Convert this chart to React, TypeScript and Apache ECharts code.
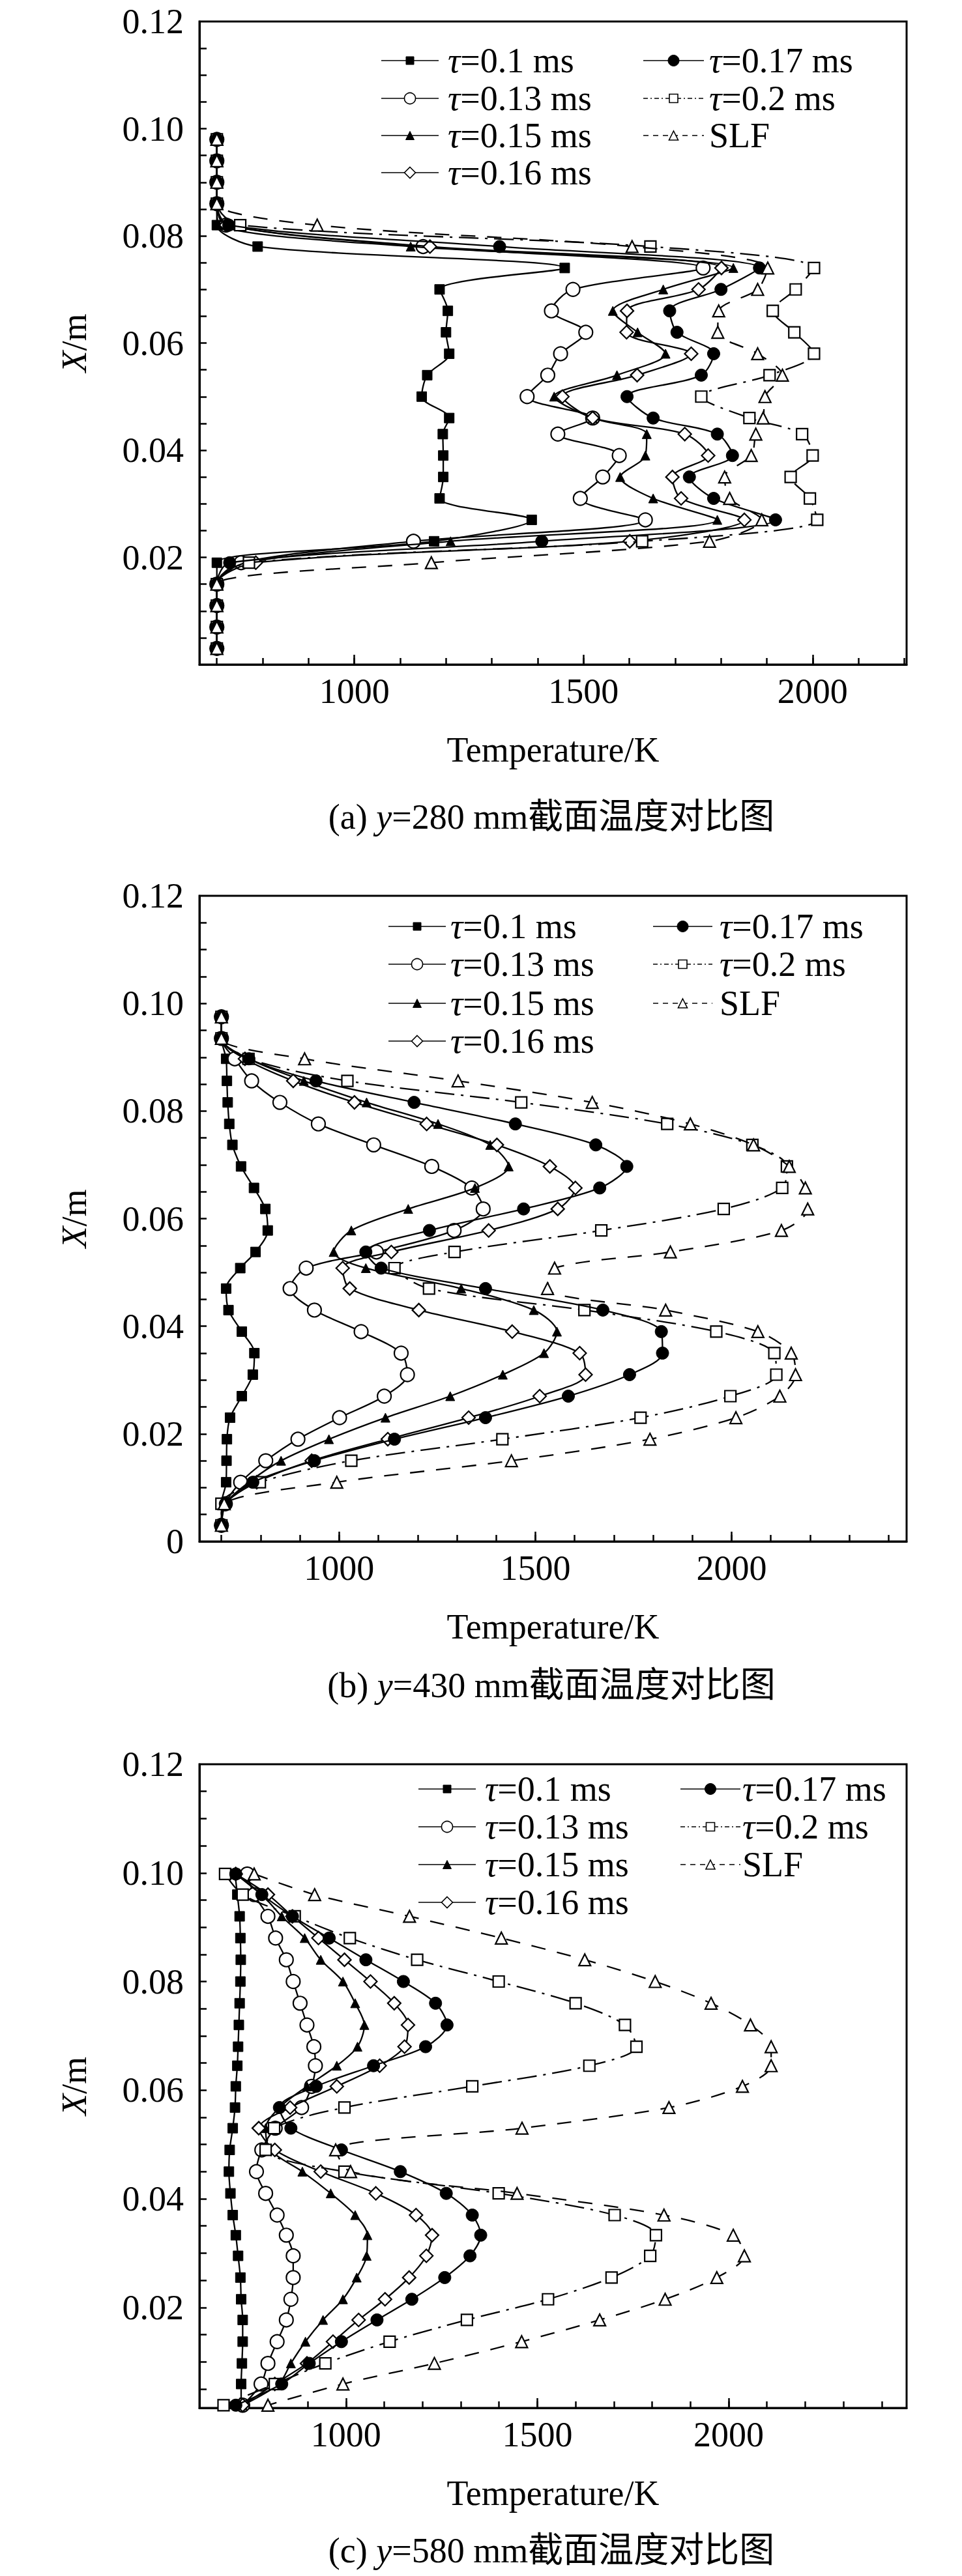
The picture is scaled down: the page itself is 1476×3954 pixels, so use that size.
import { useEffect, useRef } from "react";
import * as echarts from "echarts";

const FONT = "'Liberation Serif', 'Times New Roman', 'Noto Sans CJK SC', serif";

// legend / series names, same order in all three panels
const seriesNames = ["τ=0.1 ms", "τ=0.13 ms", "τ=0.15 ms", "τ=0.16 ms", "τ=0.17 ms", "τ=0.2 ms", "SLF"];

const xLabelValues = [1000, 1500, 2000];

// (a) y=280 mm — X/m rows and temperature (K) per series
const rowsA = [0.098, 0.094, 0.09, 0.086, 0.082, 0.078, 0.074, 0.07, 0.066, 0.062, 0.058, 0.054, 0.05, 0.046, 0.043, 0.039, 0.035, 0.031, 0.027, 0.023, 0.019, 0.015, 0.011, 0.007, 0.003];
const tau01A = [700, 700, 700, 700, 700, 789, 1459, 1186, 1204, 1200, 1207, 1159, 1147, 1207, 1193, 1194, 1194, 1186, 1387, 1174, 700, 700, 700, 700, 700];
const tau013A = [700, 700, 700, 700, 720, 1150, 1761, 1477, 1430, 1505, 1450, 1422, 1377, 1520, 1444, 1578, 1542, 1493, 1635, 1129, 753, 700, 700, 700, 700];
const tau015A = [700, 700, 700, 700, 705, 1123, 1827, 1674, 1564, 1618, 1679, 1573, 1436, 1520, 1638, 1635, 1580, 1652, 1792, 1210, 765, 700, 700, 700, 700];
const tau016A = [700, 700, 700, 700, 720, 1165, 1801, 1751, 1595, 1594, 1735, 1617, 1454, 1520, 1721, 1772, 1694, 1713, 1851, 1601, 785, 700, 700, 700, 700];
const tau017A = [700, 700, 700, 700, 726, 1317, 1884, 1800, 1688, 1704, 1784, 1757, 1595, 1652, 1792, 1825, 1731, 1784, 1919, 1409, 728, 700, 700, 700, 700];
const tau02A = [700, 700, 700, 700, 751, 1646, 2003, 1963, 1913, 1960, 2003, 1906, 1757, 1862, 1977, 2000, 1952, 1994, 2010, 1628, 770, 700, 700, 700, 700];
const slfA = [700, 700, 700, 700, 919, 1606, 1902, 1880, 1795, 1793, 1880, 1934, 1896, 1892, 1876, 1866, 1808, 1819, 1889, 1775, 1168, 700, 700, 700, 700];
const yLabelsA = [0.02, 0.04, 0.06, 0.08, 0.1, 0.12];

// (b) y=430 mm
const rowsB = [0.0975, 0.0935, 0.0897, 0.0856, 0.0816, 0.0776, 0.0737, 0.0697, 0.0657, 0.0618, 0.0578, 0.0538, 0.0508, 0.047, 0.043, 0.039, 0.035, 0.031, 0.027, 0.023, 0.019, 0.015, 0.011, 0.007, 0.003];
const tau01B = [700, 700, 712, 714, 716, 720, 728, 750, 783, 812, 818, 787, 748, 712, 718, 752, 784, 780, 752, 722, 714, 713, 712, 700, 700];
const tau013B = [700, 700, 734, 777, 849, 947, 1088, 1236, 1338, 1367, 1293, 1095, 916, 875, 937, 1056, 1158, 1174, 1115, 1001, 895, 813, 749, 710, 700];
const tau015B = [700, 700, 770, 910, 1070, 1252, 1385, 1432, 1346, 1176, 1031, 986, 1068, 1311, 1496, 1555, 1522, 1417, 1283, 1118, 974, 852, 770, 710, 700];
const tau016B = [700, 700, 760, 883, 1039, 1223, 1402, 1537, 1602, 1557, 1381, 1133, 1009, 1027, 1203, 1441, 1613, 1628, 1511, 1330, 1124, 930, 790, 710, 700];
const tau017B = [700, 700, 770, 941, 1191, 1449, 1654, 1733, 1664, 1470, 1230, 1068, 1107, 1373, 1672, 1821, 1824, 1740, 1584, 1373, 1141, 937, 780, 710, 700];
const tau02B = [700, 700, 769, 1021, 1464, 1836, 2053, 2141, 2129, 1980, 1668, 1294, 1141, 1229, 1625, 1961, 2109, 2114, 1997, 1768, 1416, 1031, 798, 700, 700];
const slfB = [700, 700, 912, 1303, 1645, 1895, 2056, 2147, 2188, 2194, 2127, 1844, 1549, 1531, 1832, 2067, 2152, 2163, 2123, 2011, 1792, 1439, 994, 707, 700];
const yLabelsB = [0, 0.02, 0.04, 0.06, 0.08, 0.1, 0.12];

// (c) y=580 mm
const rowsC = [0.0998, 0.096, 0.092, 0.088, 0.084, 0.08, 0.076, 0.072, 0.068, 0.0645, 0.0607, 0.0568, 0.053, 0.049, 0.045, 0.041, 0.037, 0.0333, 0.0295, 0.0255, 0.0215, 0.0177, 0.0137, 0.0097, 0.0059, 0.002];
const tau01C = [710, 716, 722, 724, 725, 724, 722, 720, 718, 716, 712, 710, 704, 696, 694, 698, 704, 712, 718, 724, 726, 730, 730, 728, 726, 726];
const tau013C = [742, 760, 796, 816, 844, 862, 880, 898, 916, 920, 910, 884, 815, 780, 766, 790, 820, 844, 862, 862, 856, 844, 820, 796, 778, 730];
const tau015C = [712, 780, 832, 892, 934, 992, 1024, 1048, 1030, 976, 898, 826, 790, 802, 886, 960, 1024, 1056, 1054, 1028, 992, 940, 894, 856, 824, 730];
const tau016C = [712, 796, 860, 928, 996, 1064, 1126, 1162, 1153, 1088, 976, 854, 772, 814, 934, 1078, 1183, 1225, 1210, 1165, 1102, 1033, 966, 898, 814, 730];
const tau017C = [712, 780, 860, 956, 1052, 1150, 1234, 1264, 1208, 1072, 922, 826, 856, 988, 1142, 1262, 1330, 1352, 1324, 1258, 1172, 1081, 988, 904, 832, 712];
const tau02C = [684, 730, 866, 1010, 1186, 1399, 1600, 1729, 1759, 1636, 1330, 996, 812, 790, 996, 1399, 1702, 1810, 1795, 1694, 1528, 1316, 1114, 946, 814, 680];
const slfC = [760, 918, 1166, 1406, 1624, 1808, 1954, 2057, 2111, 2111, 2036, 1844, 1460, 973, 1012, 1447, 1831, 2012, 2041, 1969, 1834, 1663, 1459, 1231, 992, 796];
const yLabelsC = [0.02, 0.04, 0.06, 0.08, 0.1, 0.12];

type Marker = {
  symbol: string;
  size: number;
  fill: string;
  dash: "solid" | number[];
  legendSize: number;
  legendDash?: number[];
  z: number;
};

const markers: Marker[] = [
  { symbol: "rect", size: 15, fill: "#000", dash: "solid", legendSize: 12, z: 2 },
  { symbol: "circle", size: 21, fill: "#fff", dash: "solid", legendSize: 17, z: 3 },
  { symbol: "triangle", size: 14, fill: "#000", dash: "solid", legendSize: 13, z: 4 },
  { symbol: "diamond", size: 20, fill: "#fff", dash: "solid", legendSize: 17, z: 5 },
  { symbol: "circle", size: 19, fill: "#000", dash: "solid", legendSize: 17, z: 7 },
  { symbol: "rect", size: 17, fill: "#fff", dash: [30, 10, 4, 10], legendSize: 13, legendDash: [7, 4, 2, 4], z: 6 },
  { symbol: "triangle", size: 18, fill: "#fff", dash: [22, 18], legendSize: 14, legendDash: [8, 7], z: 8 },
];

const panels = [
  {
    rows: rowsA,
    values: [tau01A, tau013A, tau015A, tau016A, tau017A, tau02A, slfA],
    xMin: 662, xMax: 2205, yMin: 0, yLabels: yLabelsA,
    top: 33, height: 987,
    legendRows: [93, 151, 208, 265], legLeft: [585, 673, 687], legRight: [987, 1080, 1088],
    caption: "(a) {i|y}=280 mm截面温度对比图", captionY: 1254,
  },
  {
    rows: rowsB,
    values: [tau01B, tau013B, tau015B, tau016B, tau017B, tau02B, slfB],
    xMin: 644, xMax: 2446, yMin: 0, yLabels: yLabelsB,
    top: 1375, height: 991,
    legendRows: [1422, 1480, 1540, 1598], legLeft: [596, 684, 691], legRight: [1002, 1093, 1104],
    caption: "(b) {i|y}=430 mm截面温度对比图", captionY: 2587,
  },
  {
    rows: rowsC,
    values: [tau01C, tau013C, tau015C, tau016C, tau017C, tau02C, slfC],
    xMin: 617, xMax: 2465, yMin: 0.0015, yLabels: yLabelsC,
    top: 2708, height: 988,
    legendRows: [2746, 2804, 2862, 2920], legLeft: [642, 730, 744], legRight: [1044, 1136, 1139],
    caption: "(c) {i|y}=580 mm截面温度对比图", captionY: 3915,
  },
];

const GRID_LEFT = 306;
const GRID_WIDTH = 1085;
const LEGEND_FONT = 54;
const italicRich = (size: number) => ({ i: { fontStyle: "italic", fontSize: size, fontFamily: FONT, fill: "#000" } });

function symbolEl(kind: string, cx: number, cy: number, s: number, fill: string) {
  const style = { fill, stroke: "#000", lineWidth: fill === "#fff" ? 1.6 : 1 };
  const h = s / 2;
  if (kind === "rect") return { type: "rect", shape: { x: cx - h, y: cy - h, width: s, height: s }, style, z: 101 };
  if (kind === "circle") return { type: "circle", shape: { cx, cy, r: h }, style, z: 101 };
  if (kind === "triangle")
    return { type: "polygon", shape: { points: [[cx, cy - h], [cx + h, cy + h], [cx - h, cy + h]] }, style, z: 101 };
  return { type: "polygon", shape: { points: [[cx, cy - h], [cx + h, cy], [cx, cy + h], [cx - h, cy]] }, style, z: 101 };
}

function legendItem(m: Marker, x1: number, x2: number, tx: number, y: number, label: string) {
  return [
    { type: "line", shape: { x1, y1: y, x2, y2: y }, style: { stroke: "#000", lineWidth: 1.6, lineDash: m.legendDash }, z: 100 },
    symbolEl(m.symbol, (x1 + x2) / 2, y, m.legendSize, m.fill),
    {
      type: "text", x: tx, y, z: 100,
      style: {
        text: label.replace("τ", "{i|τ}"), fontSize: LEGEND_FONT, fontFamily: FONT, fill: "#000",
        align: "left", verticalAlign: "middle", rich: italicRich(LEGEND_FONT),
      },
    },
  ];
}

function buildOption(): echarts.EChartsOption {
  const grid: any[] = [];
  const xAxis: any[] = [];
  const yAxis: any[] = [];
  const series: any[] = [];
  const graphic: any[] = [];
  const axisColor = { color: "#000", width: 3 };
  const tickLine = { color: "#000", width: 2.5 };
  const labelStyle = { fontSize: 54, fontFamily: FONT, color: "#000" };

  panels.forEach((p, i) => {
    grid.push({ left: GRID_LEFT, width: GRID_WIDTH, top: p.top, height: p.height, show: true, borderColor: "#000", borderWidth: 3 });

    const xTicks: number[] = [];
    for (let t = 700; t <= p.xMax; t += 100) xTicks.push(t);
    const yTicks: number[] = [];
    for (let k = 1; k < 24; k++) {
      const v = Math.round(k * 5) / 1000;
      if (v > p.yMin) yTicks.push(v);
    }

    xAxis.push({
      gridIndex: i, type: "value", min: p.xMin, max: p.xMax, position: "bottom",
      axisLine: { show: true, onZero: false, lineStyle: axisColor },
      axisTick: { show: true, inside: true, length: 10, customValues: xTicks, lineStyle: tickLine },
      axisLabel: { show: true, customValues: xLabelValues, margin: 14, ...labelStyle, formatter: (v: number) => String(v) },
      splitLine: { show: false },
    });
    xAxis.push({
      gridIndex: i, type: "value", min: p.xMin, max: p.xMax, position: "bottom",
      axisLine: { show: false },
      axisTick: { show: true, inside: true, length: 15, customValues: xLabelValues, lineStyle: tickLine },
      axisLabel: { show: false },
      splitLine: { show: false },
    });
    yAxis.push({
      gridIndex: i, type: "value", min: p.yMin, max: 0.12,
      axisLine: { show: true, onZero: false, lineStyle: axisColor },
      axisTick: { show: true, inside: true, length: 11, customValues: yTicks, lineStyle: tickLine },
      axisLabel: {
        show: true, customValues: p.yLabels, margin: 24, ...labelStyle,
        formatter: (v: number) => (v === 0 ? "0" : v.toFixed(2)),
      },
      splitLine: { show: false },
    });

    p.values.forEach((vals, j) => {
      const m = markers[j];
      const data = p.rows.map((x, r) => [vals[r], x]).filter((d) => d[0] != null);
      series.push({
        type: "line", name: seriesNames[j], xAxisIndex: i * 2, yAxisIndex: i,
        data, smooth: 0.3, symbol: m.symbol, symbolSize: m.size, showAllSymbol: true,
        lineStyle: { color: "#000", width: 2.3, type: m.dash },
        itemStyle: { color: m.fill, borderColor: "#000", borderWidth: m.fill === "#fff" ? 2.2 : 1 },
        emphasis: { disabled: true },
        z: m.z,
      });
    });

    const midX = GRID_LEFT + GRID_WIDTH / 2;
    const bottom = p.top + p.height;
    graphic.push({
      type: "text", x: midX, y: bottom + 131,
      style: { text: "Temperature/K", fontSize: 54, fontFamily: FONT, fill: "#000", align: "center", verticalAlign: "middle" },
    });
    graphic.push({
      type: "text", x: 114, y: p.top + p.height / 2, rotation: Math.PI / 2,
      style: { text: "{i|X}/m", fontSize: 54, fontFamily: FONT, fill: "#000", align: "center", verticalAlign: "middle", rich: italicRich(54) },
    });
    graphic.push({
      type: "text", x: 846, y: p.captionY,
      style: { text: p.caption, fontSize: 54, fontFamily: FONT, fill: "#000", align: "center", verticalAlign: "middle", rich: italicRich(54) },
    });

    seriesNames.forEach((name, j) => {
      const col = j < 4 ? p.legLeft : p.legRight;
      const row = j < 4 ? j : j - 4;
      graphic.push(...legendItem(markers[j], col[0], col[1], col[2], p.legendRows[row], name));
    });
  });

  return {
    animation: false,
    backgroundColor: "#fff",
    textStyle: { fontFamily: FONT },
    grid,
    xAxis,
    yAxis,
    series,
    graphic,
  };
}

export default function App() {
  const chartRef = useRef<HTMLDivElement>(null);

  useEffect(() => {
    document.body.style.margin = "0";
    if (!chartRef.current) return;
    const chart = echarts.init(chartRef.current, undefined, { renderer: "svg" });
    chart.setOption(buildOption());
    return () => chart.dispose();
  }, []);

  return <div ref={chartRef} style={{ width: 1476, height: 3954 }} />;
}
